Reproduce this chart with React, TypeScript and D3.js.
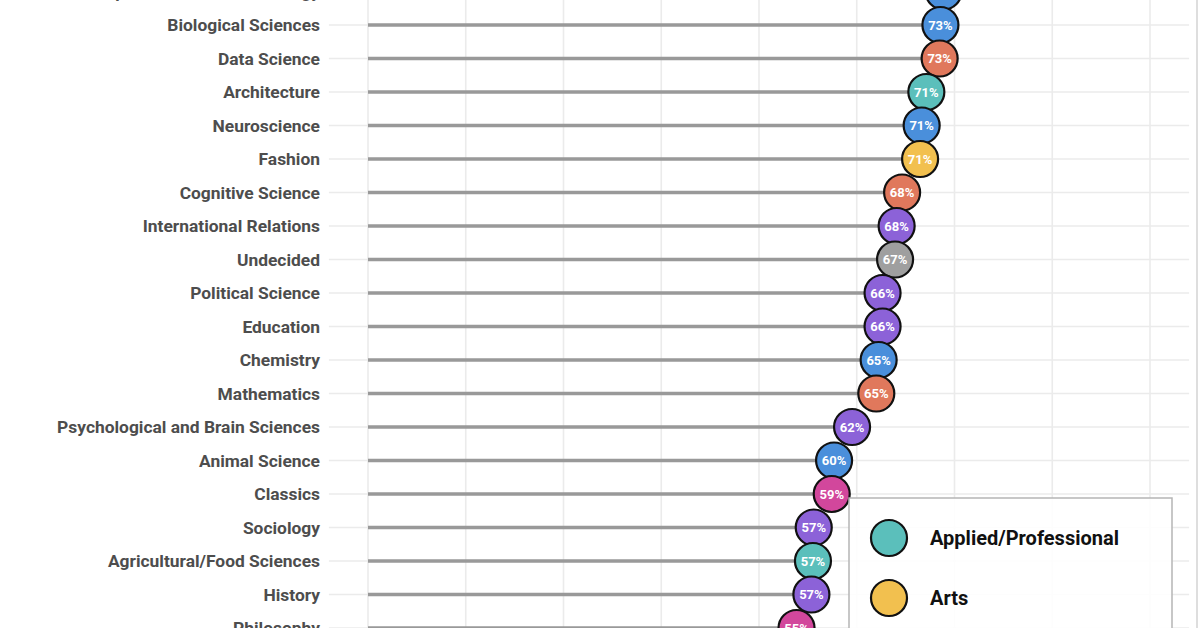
import * as React from 'react';
import { scaleLinear, scalePoint, range } from 'd3';

const majors = [
  'Computer Science/Technology', 'Biological Sciences', 'Data Science', 'Architecture',
  'Neuroscience', 'Fashion', 'Cognitive Science', 'International Relations', 'Undecided',
  'Political Science', 'Education', 'Chemistry', 'Mathematics',
  'Psychological and Brain Sciences', 'Animal Science', 'Classics', 'Sociology',
  'Agricultural/Food Sciences', 'History', 'Philosophy',
];
const shares = [
  73.6, 73.2, 73.1, 71.4, 70.8, 70.6, 68.3, 67.6, 67.4, 65.8, 65.8, 65.3, 65.0,
  61.9, 59.6, 59.3, 57.0, 56.9, 56.7, 54.8,
];
const groups = [
  'Sciences', 'Sciences', 'Quantitative', 'Applied/Professional', 'Sciences', 'Arts',
  'Quantitative', 'Social Sciences', 'Undecided', 'Social Sciences', 'Social Sciences',
  'Sciences', 'Quantitative', 'Social Sciences', 'Sciences', 'Humanities',
  'Social Sciences', 'Applied/Professional', 'Social Sciences', 'Humanities',
];
const groupNames = ['Applied/Professional', 'Arts', 'Humanities', 'Quantitative', 'Sciences', 'Social Sciences', 'Undecided'];
const groupColors = ['#5bbfbb', '#f2c04f', '#d2479c', '#e0785c', '#4a8fdb', '#8c62d8', '#9f9f9f'];

const W = 1200;
const H = 628;

const App = () => {
  const x = scaleLinear().domain([0, 100]).range([368, 1150]);
  const y = scalePoint<string>().domain(majors).range([-8.5, 628]);
  const color = (g: string) => groupColors[groupNames.indexOf(g)];
  const font = 'Roboto, "DejaVu Sans", sans-serif';
  const gridX = range(0, 100.1, 12.5);
  const legendItems = groupNames.slice(0, 2);

  return (
    <svg width={W} height={H} style={{ position: 'absolute', left: 0, top: 0, background: '#fff' }}>
      <rect width={W} height={H} fill="#fff" />
      {gridX.map(v => (
        <line key={v} x1={x(v)} x2={x(v)} y1={0} y2={H} stroke="#ebebeb" strokeWidth={1.6} />
      ))}
      {majors.map(m => (
        <line key={m} x1={x(-5)} x2={x(105)} y1={y(m)} y2={y(m)} stroke="#ebebeb" strokeWidth={1.6} />
      ))}
      <line x1={1197} x2={1197} y1={0} y2={H} stroke="#c8c8c8" strokeWidth={1.2} />
      {majors.map((m, i) => (
        <line key={m} x1={x(0)} x2={x(shares[i])} y1={y(m)} y2={y(m)} stroke="#999" strokeWidth={3.5} />
      ))}
      {majors.map(m => (
        <text key={m} x={320} y={y(m)} dy="0.35em" textAnchor="end" fontFamily={font}
          fontWeight={700} fontSize={17.4} fill="#4d4d4d">{m}</text>
      ))}
      {majors.map((m, i) => (
        <g key={m} transform={`translate(${x(shares[i])},${y(m)})`}>
          <circle r={18} fill={color(groups[i])} stroke="#111" strokeWidth={2.2} />
          <text dy="0.36em" textAnchor="middle" fontFamily={font} fontWeight={700}
            fontSize={13} fill="#fff">{`${Math.round(shares[i])}%`}</text>
        </g>
      ))}
      <rect x={849} y={498} width={323} height={200} fill="#fff" fillOpacity={0.88}
        stroke="#b5b5b5" strokeWidth={1.5} />
      {legendItems.map((g, i) => (
        <g key={g} transform={`translate(889,${538 + i * 60})`}>
          <circle r={18} fill={color(g)} stroke="#111" strokeWidth={2.2} />
          <text x={41} dy="0.35em" fontFamily={font} fontWeight={700} fontSize={20} fill="#111">{g}</text>
        </g>
      ))}
    </svg>
  );
};

export default App;
